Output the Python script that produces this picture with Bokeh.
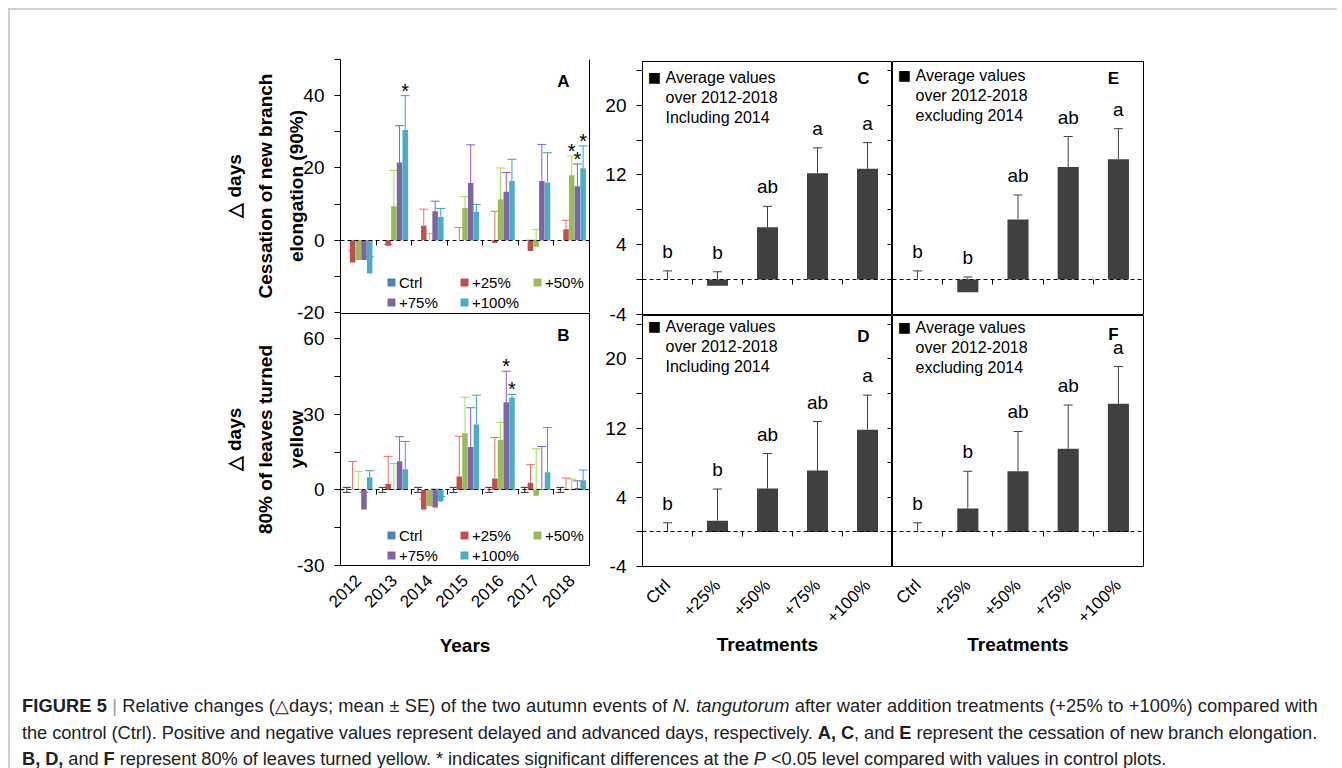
import math
from bokeh.plotting import figure
from bokeh.models import (FactorRange, Range1d, LinearAxis, FixedTicker,
                          Whisker, TeeHead, Legend, LegendItem, Label, ColumnDataSource, Div,
                          GlobalInlineStyleSheet)
from bokeh.transform import dodge
from bokeh.layouts import column, row
from bokeh.core.properties import value
from bokeh.embed import file_html
from bokeh.resources import INLINE

# ---------------- data ----------------
years = ["2012", "2013", "2014", "2015", "2016", "2017", "2018"]
treatments = ["Ctrl", "+25%", "+50%", "+75%", "+100%"]

# Panel A: cessation of new branch elongation (90%), per treatment, per year
A_mean = [
    [0, 0, 0, 0, 0, 0, 0],
    [-6.2, -1.5, 4.0, 0.0, -0.8, -3.0, 3.0],
    [-5.5, 9.4, 0.0, 8.9, 11.3, -1.8, 18.0],
    [-5.5, 21.5, 8.0, 15.8, 13.4, 16.4, 14.9],
    [-9.2, 30.5, 6.5, 7.9, 16.4, 16.0, 19.9],
]
A_se = [
    [0, 0, 0, 0, 0, 0, 0],
    [3.3, 0.3, 4.6, 3.5, 8.8, 3.0, 2.5],
    [3.4, 9.9, 1.8, 3.2, 8.7, 4.7, 5.3],
    [4.3, 10.2, 2.8, 10.6, 5.3, 10.1, 6.2],
    [4.6, 9.5, 2.3, 2.0, 6.0, 8.2, 6.2],
]
A_sig = [
    [0, 0, 0, 0, 0, 0, 0],
    [0, 0, 0, 0, 0, 0, 0],
    [0, 0, 0, 0, 0, 0, 1],
    [0, 0, 0, 0, 0, 0, 1],
    [0, 1, 0, 0, 0, 0, 1],
]

# Panel B: 80% of leaves turned yellow
B_mean = [
    [0, 0, 0, 0, 0, 0, 0],
    [0.0, 2.3, -7.8, 5.3, 4.5, 2.8, 0.3],
    [0.5, 0.3, -6.5, 22.5, 19.8, -2.3, 0.3],
    [-7.8, 11.4, -7.0, 17.0, 34.8, 0.3, 0.8],
    [5.0, 8.2, -4.6, 26.0, 36.7, 7.0, 3.8],
]
B_se = [
    [1.0, 1.0, 1.0, 1.0, 1.0, 1.0, 1.0],
    [11.3, 11.0, 4.2, 16.0, 16.3, 7.2, 4.4],
    [6.9, 10.2, 2.7, 14.3, 7.0, 18.6, 4.0],
    [6.9, 9.7, 7.3, 15.6, 12.3, 16.9, 2.8],
    [2.6, 11.0, 2.0, 11.6, 1.2, 17.7, 4.1],
]
B_sig = [
    [0, 0, 0, 0, 0, 0, 0],
    [0, 0, 0, 0, 0, 0, 0],
    [0, 0, 0, 0, 0, 0, 0],
    [0, 0, 0, 0, 1, 0, 0],
    [0, 0, 0, 0, 1, 0, 0],
]

# Panels C-F: averages over 2012-2018
C_mean = [0.0, -0.7, 6.0, 12.2, 12.7]
C_se = [1.0, 1.6, 2.4, 2.9, 3.0]
C_letters = ["b", "b", "ab", "a", "a"]
D_mean = [0.0, 1.3, 5.0, 7.1, 11.8]
D_se = [1.05, 3.65, 4.05, 5.65, 4.0]
D_letters = ["b", "b", "ab", "ab", "a"]
E_mean = [0.0, -1.45, 6.9, 12.9, 13.8]
E_se = [1.0, 1.75, 2.8, 3.5, 3.5]
E_letters = ["b", "b", "ab", "ab", "a"]
F_mean = [0.0, 2.7, 7.0, 9.6, 14.8]
F_se = [1.05, 4.3, 4.6, 5.05, 4.3]
F_letters = ["b", "b", "ab", "ab", "a"]

# axis ranges / ticks
A_range, A_ticks, A_minor = (-20, 50), [-20, 0, 20, 40], [-10, 10, 30, 50]
B_range, B_ticks, B_minor = (-30, 70), [-30, 0, 30, 60], [-15, 15, 45]
T_range, T_ticks, T_minor = (-4, 25), [-4, 4, 12, 20], [0, 8, 16, 24]

# ---------------- style ----------------
FONT = "Liberation Sans"
BAR = ["#4F81BD", "#C0504D", "#9BBB59", "#8064A2", "#4BACC6"]
ERR = ["#333333", "#E8706C", "#9EE04A", "#8A5CD6", "#3B9FC0"]
DARK = "#404040"
OVERLAP = 9  # px by which a lower panel's canvas overlaps the upper one


def base_fig(x_range, y_range, width, height, ml, mr, mt, mb, lower):
    p = figure(x_range=x_range, y_range=Range1d(*y_range), width=width, height=height,
               output_backend="svg", toolbar_location=None,
               min_border_left=ml, min_border_right=mr, min_border_top=mt, min_border_bottom=mb,
               background_fill_color="white", border_fill_color="white")
    p.xgrid.visible = False
    p.ygrid.visible = False
    p.outline_line_color = "black"
    p.outline_line_width = 1
    if lower:
        # transparent margin so the upper panel's lowest tick label stays visible
        p.border_fill_alpha = 0
        p.styles = {"margin-top": "-%dpx" % OVERLAP}
    return p


def style_yaxis(ax, ticks, minor, title=None):
    ax.ticker = FixedTicker(ticks=ticks, minor_ticks=minor)
    ax.axis_line_color = "black"
    ax.major_tick_out = 6
    ax.major_tick_in = 0
    ax.minor_tick_out = 6
    ax.minor_tick_in = 0
    ax.major_tick_line_color = "black"
    ax.minor_tick_line_color = "black"
    ax.major_label_text_font = FONT
    ax.major_label_text_font_size = "19px"
    ax.major_label_text_color = "black"
    ax.major_label_standoff = 10
    ax.major_label_overrides = {t: ("-%d" % abs(t)) for t in ticks if t < 0}
    if title:
        ax.axis_label = title
        ax.axis_label_text_font = FONT
        ax.axis_label_text_font_size = "19px"
        ax.axis_label_text_font_style = "bold"
        ax.axis_label_text_color = "black"
        ax.axis_label_text_line_height = 1.47
        ax.axis_label_text_align = "center"
        ax.axis_label_standoff = -13


def style_xaxis(ax, title, label_standoff, title_standoff):
    ax.major_label_orientation = math.pi / 4
    ax.major_tick_line_color = None
    ax.major_tick_out = 0
    ax.minor_tick_line_color = None
    ax.minor_tick_out = 0
    ax.axis_line_color = None
    ax.major_label_text_font = FONT
    ax.major_label_text_font_size = "17px"
    ax.major_label_text_color = "black"
    ax.major_label_standoff = label_standoff
    ax.axis_label = title
    ax.axis_label_text_font = FONT
    ax.axis_label_text_font_size = "19px"
    ax.axis_label_text_font_style = "bold"
    ax.axis_label_text_color = "black"
    ax.axis_label_standoff = title_standoff


def zero_axis(p, n):
    # dashed zero line with ticks at the category boundaries
    ax = LinearAxis(fixed_location=0,
                    ticker=FixedTicker(ticks=list(range(n + 1))),
                    major_tick_out=5, major_tick_in=0, minor_tick_line_color=None,
                    major_label_text_font_size="0px", major_label_standoff=0,
                    axis_line_dash="4 3", axis_line_color="black",
                    major_tick_line_color="black")
    p.add_layout(ax, "below")


def screen_label(p, x, y, text, size, bold=False, align="left", baseline="middle"):
    p.add_layout(Label(x=x, y=y, x_units="screen", y_units="screen", text=text,
                       text_align=align, text_baseline=baseline, text_font=FONT,
                       text_font_size=size, text_font_style="bold" if bold else "normal",
                       text_color="black"))


def year_panel(means, ses, sig, yr, ticks, minor, height, mt, mb, frame_h, show_x, title,
               letter, lower):
    p = base_fig(FactorRange(factors=years), yr, 580, height, 330, 1, mt, mb, lower)
    data = {"year": years}
    for i in range(len(treatments)):
        data[f"m{i}"] = means[i]
        data[f"u{i}"] = [m + s for m, s in zip(means[i], ses[i])]
        data[f"l{i}"] = [m - s for m, s in zip(means[i], ses[i])]
    src = ColumnDataSource(data)
    rends = []
    for i, t in enumerate(treatments):
        off = (i - 2) * 0.16
        xs = dodge("year", off, range=p.x_range)
        r = p.vbar(x=xs, top=f"m{i}", width=0.155, source=src, fill_color=BAR[i], line_color=None)
        rends.append(r)
        if any(ses[i]):
            if i == 0:
                w = Whisker(base=xs, lower=f"l{i}", upper=f"u{i}", source=src,
                            line_color=ERR[i], line_width=1,
                            upper_head=TeeHead(size=8, line_color=ERR[i], line_width=1),
                            lower_head=TeeHead(size=8, line_color=ERR[i], line_width=1))
            else:
                w = Whisker(base=xs, lower=f"m{i}", upper=f"u{i}", source=src,
                            line_color=ERR[i], line_width=1,
                            upper_head=TeeHead(size=9, line_color=ERR[i], line_width=1),
                            lower_head=None)
            p.add_layout(w)
        star_years = [y for y, s in zip(years, sig[i]) if s]
        if star_years:
            star_u = [u for u, s in zip(data[f"u{i}"], sig[i]) if s]
            ssrc = ColumnDataSource({"year": star_years, "u": star_u})
            p.text(x=dodge("year", off, range=p.x_range), y="u", text=value("*"), source=ssrc,
                   text_font=value(FONT), text_font_size="20px", text_align="center",
                   text_baseline="middle", y_offset=-5, text_color="black")
    zero_axis(p, len(years))
    style_yaxis(p.yaxis[0], ticks, minor, title)
    if show_x:
        style_xaxis(p.xaxis[0], "Years", 12, 19)
    else:
        p.xaxis[0].visible = False
    leg = Legend(items=[LegendItem(label=t, renderers=[r]) for t, r in zip(treatments, rends)],
                 location=(46, 1), orientation="horizontal", ncols=3,
                 label_text_font=FONT, label_text_font_size="15px", label_text_color="black",
                 glyph_width=10, glyph_height=10, label_standoff=3, label_width=58,
                 label_height=18, spacing=2, padding=0, margin=0,
                 border_line_color=None, background_fill_alpha=0)
    p.add_layout(leg)
    screen_label(p, 223, frame_h - 22, letter, "17px", bold=True, align="center")
    return p


def trt_panel(mean, se, letters, width, height, ml, mr, mt, mb, frame_h, show_x, left_axis,
              right_ticks, legend_lines, legend_dy, letter, letter_dy, lower):
    p = base_fig(FactorRange(factors=treatments), T_range, width, height, ml, mr, mt, mb, lower)
    src = ColumnDataSource({"trt": treatments, "m": mean,
                            "u": [m + s for m, s in zip(mean, se)], "lab": letters})
    p.vbar(x="trt", top="m", width=0.42, source=src, fill_color=DARK, line_color=None)
    p.add_layout(Whisker(base="trt", lower="m", upper="u", source=src, line_color=DARK,
                         line_width=1, upper_head=TeeHead(size=9, line_color=DARK, line_width=1),
                         lower_head=None))
    p.text(x="trt", y="u", text="lab", source=src, text_font=value(FONT), text_font_size="19px",
           text_align="center", text_baseline="bottom", y_offset=-9, text_color="black")
    zero_axis(p, len(treatments))
    if left_axis:
        style_yaxis(p.yaxis[0], T_ticks, T_minor)
    else:
        p.yaxis[0].visible = False
    if right_ticks:
        rax = LinearAxis(ticker=FixedTicker(ticks=sorted(T_ticks + T_minor)),
                         major_tick_in=5, major_tick_out=0, minor_tick_line_color=None,
                         major_label_text_font_size="0px", major_label_standoff=0,
                         axis_line_color="black", major_tick_line_color="black")
        p.add_layout(rax, "right")
    if show_x:
        style_xaxis(p.xaxis[0], "Treatments", 16, -3)
    else:
        p.xaxis[0].visible = False
    screen_label(p, 12, frame_h - legend_dy, "\u25A0", "22px", align="center")
    for k, txt in enumerate(legend_lines):
        screen_label(p, 23, frame_h - legend_dy - 20 * k, txt, "16px")
    screen_label(p, 221, frame_h - letter_dy, letter, "17px", bold=True, align="center")
    return p


pA = year_panel(A_mean, A_se, A_sig, A_range, A_ticks, A_minor, 311, 49, OVERLAP, 253, False,
                "\u25B3 days\nCessation of new branch\nelongation (90%)", "A", False)
# right border of panel A (the original has no top line on this panel)
pA.outline_line_color = None
pA.add_layout(LinearAxis(ticker=FixedTicker(ticks=[]), major_label_text_font_size="0px",
                         major_label_standoff=0, major_tick_line_color=None,
                         minor_tick_line_color=None, axis_line_color="black"), "right")
pB = year_panel(B_mean, B_se, B_sig, B_range, B_ticks, B_minor, 347, 1, 94, 252, True,
                "\u25B3 days\n80% of leaves turned\nyellow", "B", True)

inc = ["Average values", "over 2012-2018", "Including 2014"]
exc = ["Average values", "over 2012-2018", "excluding 2014"]
pC = trt_panel(C_mean, C_se, C_letters, 302, 313, 52, 0, 51, OVERLAP, 253, False, True, True,
               inc, 16, "C", 17, False)
pD = trt_panel(D_mean, D_se, D_letters, 302, 345, 52, 0, 1, 93, 251, True, True, True,
               inc, 11, "D", 21, True)
pE = trt_panel(E_mean, E_se, E_letters, 256, 313, 0, 5, 51, OVERLAP, 253, False, False, False,
               exc, 14, "E", 17, False)
pF = trt_panel(F_mean, F_se, F_letters, 256, 345, 0, 5, 1, 93, 251, True, False, False,
               exc, 12, "F", 19, True)

caption_html = (
    "<div style=\"font-family:'Liberation Sans',Arial,sans-serif;"
    "font-size:18.3px;line-height:26.5px;color:#222;white-space:nowrap;\">"
    "<span style='letter-spacing:0.08px'><b>FIGURE 5</b> <span style='color:#999'>|</span> "
    "Relative changes (\u25B3days; mean \u00B1 SE) of the two autumn events of "
    "<i>N. tangutorum</i> after water addition treatments (+25% to +100%) compared with</span><br>"
    "<span style='letter-spacing:-0.077px'>the control (Ctrl). Positive and negative values represent "
    "delayed and advanced days, respectively. "
    "<b>A, C</b>, and <b>E</b> represent the cessation of new branch elongation.</span><br>"
    "<span style='letter-spacing:-0.071px'><b>B, D,</b> and <b>F</b> represent 80% of leaves turned "
    "yellow. * indicates significant differences at the "
    "<i>P</i> &lt;0.05 level compared with values in control plots.</span></div>"
)
cap = Div(text=caption_html, width=1310, height=108,
          styles={"margin-left": "12px", "padding-top": "29px"})

top = row(column(pA, pB), column(pC, pD), column(pE, pF))
root = column(top, cap,
              styles={"margin-left": "8px", "margin-top": "8px",
                      "border-top": "2px solid #d0d0d0", "border-left": "2px solid #d0d0d0"},
              stylesheets=[GlobalInlineStyleSheet(css="html, body { overflow: hidden; }")])

open("out.html", "w").write(file_html(root, INLINE))
